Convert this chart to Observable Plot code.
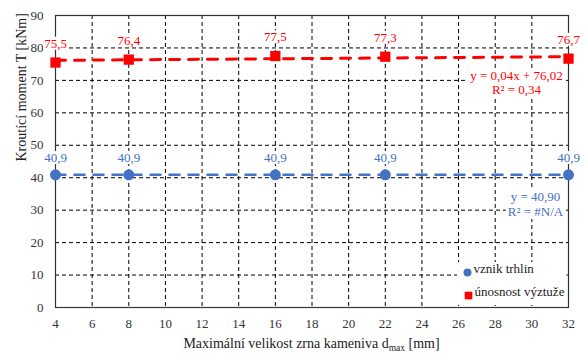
<!DOCTYPE html>
<html>
<head>
<meta charset="utf-8">
<script src="https://cdn.jsdelivr.net/npm/d3@7"></script>
<script src="https://cdn.jsdelivr.net/npm/@observablehq/plot@0.6"></script>
<style>
  html, body { margin: 0; padding: 0; background: #fff; }
  svg, svg text { font-family: "Liberation Serif", "Times New Roman", serif !important; }
</style>
</head>
<body>
<div id="chart"></div>
<script>
// ---- data ----
const dmax = [4, 8, 16, 22, 32];
const crack = [40.9, 40.9, 40.9, 40.9, 40.9];           // vznik trhlin
const capacity = [75.5, 76.4, 77.5, 77.3, 76.7];        // únosnost výztuže
const crackLabels = ["40,9", "40,9", "40,9", "40,9", "40,9"];
const capacityLabels = ["75,5", "76,4", "77,5", "77,3", "76,7"];
const xTicks = [4, 6, 8, 10, 12, 14, 16, 18, 20, 22, 24, 26, 28, 30, 32];
const yTicks = [0, 10, 20, 30, 40, 50, 60, 70, 80, 90];
// trendlines (as given on the chart)
const capSlope = 0.04, capIntercept = 76.02;
const crackSlope = 0, crackIntercept = 40.90;
const capEquation = "y = 0,04x + 76,02\nR² = 0,34";
const crackEquation = "y = 40,90\nR² = #N/A";
const seriesNames = ["vznik trhlin", "únosnost výztuže"];

const blue = "#4472C4";
const red = "#FF0000";

const crackData = dmax.map((x, i) => ({x, y: crack[i], label: crackLabels[i]}));
const capData = dmax.map((x, i) => ({x, y: capacity[i], label: capacityLabels[i]}));
const xEnds = [dmax[0], dmax[dmax.length - 1]];
const capTrend = xEnds.map(x => ({x, y: capSlope * x + capIntercept}));
const crackTrend = xEnds.map(x => ({x, y: crackSlope * x + crackIntercept}));
const lastCap = capTrend[1];
const lastCrack = crackTrend[1];

const W = 587, H = 354;
const mL = 55, mR = 19, mT = 15, mB = 47;
const xDom = [4, 32], yDom = [0, 90];
const serif = "'Liberation Serif', 'Times New Roman', serif";

const legendMarks = [
  Plot.dot([seriesNames[0]], {frameAnchor: "bottom-right", dx: -101, dy: -35, r: 4, fill: blue, symbol: "circle", className: "lg"}),
  Plot.dot([seriesNames[1]], {frameAnchor: "bottom-right", dx: -100, dy: -12, r: 4.3, fill: red, symbol: "square"}),
  Plot.text([seriesNames[0]], {frameAnchor: "bottom-right", text: d => d, dx: -95, dy: -35, textAnchor: "start", fill: "#222", fontSize: 13}),
  Plot.text([seriesNames[1]], {frameAnchor: "bottom-right", text: d => d, dx: -94, dy: -12, textAnchor: "start", fill: "#222", fontSize: 13})
];

const chart = Plot.plot({
  width: W,
  height: H,
  marginLeft: mL,
  marginRight: mR,
  marginTop: mT,
  marginBottom: mB,
  style: {fontFamily: serif, fontSize: "13px", color: "#333", background: "#fff"},
  x: {domain: xDom, ticks: xTicks, tickSize: 0, tickPadding: 11, label: null, tickFormat: d => String(d)},
  y: {domain: yDom, ticks: yTicks, tickSize: 0, tickPadding: 12, label: null, tickFormat: d => String(d)},
  marks: [
    Plot.ruleX(xTicks, {stroke: "#000", strokeWidth: 1, strokeDasharray: "4,3"}),
    Plot.ruleY(yTicks, {stroke: "#000", strokeWidth: 1, strokeDasharray: "4,3"}),
    Plot.frame({stroke: "#333", strokeWidth: 1.2}),
    Plot.line(capTrend, {x: "x", y: "y", stroke: red, strokeWidth: 3, strokeDasharray: "10,9"}),
    Plot.line(crackTrend, {x: "x", y: "y", stroke: blue, strokeWidth: 2.5, strokeDasharray: "10,9"}),
    Plot.dot(crackData, {x: "x", y: "y", r: 5.5, fill: blue, symbol: "circle"}),
    Plot.dot(capData, {x: "x", y: "y", r: 5.8, fill: red, symbol: "square"}),
    Plot.text(capData, {x: "x", y: "y", text: "label", fill: red, dy: -19, fontSize: 13}),
    Plot.text(crackData, {x: "x", y: "y", text: "label", fill: blue, dy: -17, fontSize: 13}),
    Plot.text([lastCap], {x: "x", y: "y", text: () => capEquation, fill: red, dx: -52, dy: 26, fontSize: 13, lineHeight: 1.05}),
    Plot.text([lastCrack], {x: "x", y: "y", text: () => crackEquation, fill: blue, dx: -33, dy: 29, fontSize: 13, lineHeight: 1.15}),
    // y axis title
    Plot.text(["Kroutící moment T [kNm]"], {frameAnchor: "left", text: d => d, rotate: -90, dx: -34, fill: "#222", fontSize: 14}),
    // legend (kept last)
    ...legendMarks
  ]
});

document.getElementById("chart").appendChild(chart);
const svgNS = "http://www.w3.org/2000/svg";
const svgEl = chart.tagName.toLowerCase() === "svg" ? chart : chart.querySelector("svg");

// white boxes behind data labels and trendline equations
const labelSet = new Set([...crackLabels, ...capacityLabels]);
svgEl.querySelectorAll("text").forEach(tx => {
  const s = tx.textContent;
  const isEq = s.startsWith("y =");
  if (!(isEq || labelSet.has(s))) return;
  const bb = tx.getBBox();
  const pad = isEq ? 2 : 1;
  const rect = document.createElementNS(svgNS, "rect");
  rect.setAttribute("x", bb.x - pad);
  rect.setAttribute("y", bb.y + (isEq ? 0 : 1));
  rect.setAttribute("width", bb.width + 2 * pad);
  rect.setAttribute("height", bb.height - (isEq ? 0 : 2));
  rect.setAttribute("fill", "#ffffff");
  const tr = tx.getAttribute("transform");
  if (tr) rect.setAttribute("transform", tr);
  tx.parentNode.insertBefore(rect, tx);
});

// legend background: take the last four top-level groups (the legend marks),
// append a white box, then re-append those groups on top of it
const tops = Array.from(svgEl.children).filter(n => n.tagName.toLowerCase() === "g");
const legendGroups = tops.slice(-legendMarks.length);
const box = document.createElementNS(svgNS, "rect");
box.setAttribute("x", W - mR - 111);
box.setAttribute("y", H - mB - 45);
box.setAttribute("width", 109.5);
box.setAttribute("height", 43);
box.setAttribute("fill", "#ffffff");
box.setAttribute("stroke", "none");
svgEl.appendChild(box);
legendGroups.forEach(g => svgEl.appendChild(g));

// x axis title with subscript
const t = d3.select(svgEl).append("text")
  .attr("x", mL + (W - mL - mR) / 2)
  .attr("y", H - 6)
  .attr("text-anchor", "middle")
  .attr("fill", "#222")
  .style("font-family", serif)
  .style("font-size", "14px");
t.append("tspan").text("Maximální velikost zrna kameniva d");
t.append("tspan").attr("dy", 3).style("font-size", "9.5px").text("max");
t.append("tspan").attr("dy", -3).text(" [mm]");
</script>
</body>
</html>
